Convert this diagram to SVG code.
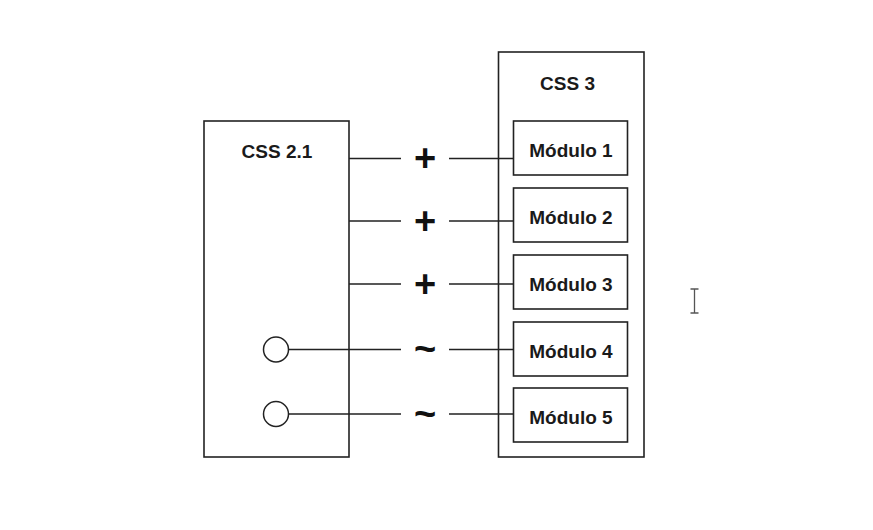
<svg xmlns="http://www.w3.org/2000/svg" width="873" height="530" viewBox="0 0 873 530">
<style>
.box{fill:#fff;stroke:#222;stroke-width:1.6}
.ln{stroke:#222;stroke-width:1.5;fill:none}
.t{font-family:"Liberation Sans",Arial,sans-serif;font-weight:bold;font-size:19px;fill:#1a1a1a;text-anchor:middle}
.sym{font-family:"Liberation Sans",Arial,sans-serif;font-weight:bold;font-size:38px;fill:#111;text-anchor:middle}
</style>
<rect width="873" height="530" fill="#fff"/>
<g id="css21">
<rect class="box" x="204" y="121" width="145" height="336"/>
<text class="t" x="277" y="158">CSS 2.1</text>
</g>
<g id="css3">
<rect class="box" x="498.5" y="52" width="145.5" height="405"/>
<text class="t" x="567.5" y="90">CSS 3</text>
</g>
<g id="m1"><rect class="box" x="513.5" y="121" width="114" height="54"/><text class="t" x="571" y="157">Módulo 1</text></g>
<g id="m2"><rect class="box" x="513.5" y="188" width="114" height="54"/><text class="t" x="571" y="224">Módulo 2</text></g>
<g id="m3"><rect class="box" x="513.5" y="255" width="114" height="54"/><text class="t" x="571" y="291">Módulo 3</text></g>
<g id="m4"><rect class="box" x="513.5" y="322" width="114" height="54"/><text class="t" x="571" y="358">Módulo 4</text></g>
<g id="m5"><rect class="box" x="513.5" y="388" width="114" height="54"/><text class="t" x="571" y="424">Módulo 5</text></g>
<g id="connectors">
<path class="ln" d="M349 158.5H401M449 158.5H513.5"/>
<path class="ln" d="M349 221H401M449 221H513.5"/>
<path class="ln" d="M349 284H401M449 284H513.5"/>
<path class="ln" d="M289 349.5H401M449 349.5H513.5"/>
<path class="ln" d="M289 414H401M449 414H513.5"/>
<circle class="ln" cx="276" cy="349.5" r="12.5"/>
<circle class="ln" cx="276" cy="414" r="12.5"/>
<text class="sym" x="425" y="171">+</text>
<text class="sym" x="425" y="234">+</text>
<text class="sym" x="425" y="297">+</text>
<text class="sym" x="425" y="362">~</text>
<text class="sym" x="425" y="427">~</text>
</g>
<path d="M694.5 289V313M690.5 289H698.5M690.5 313H698.5" stroke="#555" stroke-width="1.3" fill="none"/>
</svg>
